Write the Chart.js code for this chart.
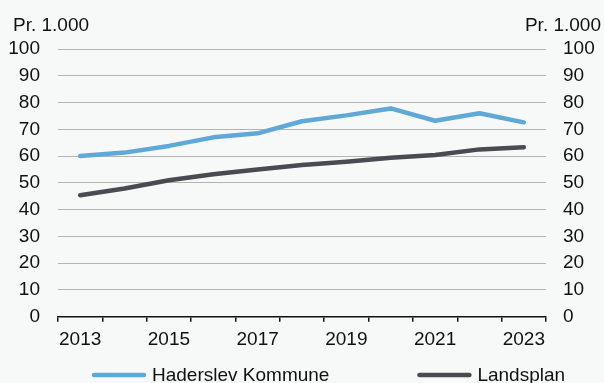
<!DOCTYPE html>
<html>
<head>
<meta charset="utf-8">
<style>
  html, body { margin: 0; padding: 0; background: #f7f8f8; }
  #wrap { width: 604px; height: 383px; position: relative; }
</style>
<script src="https://cdn.jsdelivr.net/npm/chart.js@4.4.1/dist/chart.umd.min.js"></script>
</head>
<body>
<div id="wrap"><canvas id="chart"></canvas></div>
<script>
// ── DATA ──
const years = ['2013','2014','2015','2016','2017','2018','2019','2020','2021','2022','2023'];
const haderslev = [60.0, 61.3, 63.8, 67.0, 68.5, 73.0, 75.2, 77.8, 73.2, 76.0, 72.6];
const landsplan = [45.4, 47.9, 51.0, 53.2, 55.0, 56.7, 57.9, 59.4, 60.4, 62.5, 63.3];
const seriesNames = ['Haderslev Kommune', 'Landsplan'];
const yMin = 0, yMax = 100, yStep = 10;
const unitLabel = 'Pr. 1.000';

const FONT = '"Liberation Sans", Arial, sans-serif';
const TEXT = '#111111';
Chart.defaults.font.family = FONT;
Chart.defaults.font.size = 19;
Chart.defaults.color = TEXT;

// ── UNIT LABELS (top left / top right) ──
const unitPlugin = {
  id: 'unitLabels',
  afterDraw(chart) {
    const ctx = chart.ctx;
    ctx.save();
    ctx.font = '19px ' + FONT;
    ctx.fillStyle = TEXT;
    ctx.textBaseline = 'alphabetic';
    ctx.textAlign = 'left';
    ctx.fillText(unitLabel, 13, 31);
    ctx.textAlign = 'right';
    ctx.fillText(unitLabel, chart.width - 3, 31);
    ctx.restore();
  }
};

// ── LEGEND (drawn by hand, items spaced like the original) ──
const legendPlugin = {
  id: 'bottomLegend',
  afterDraw(chart) {
    const ctx = chart.ctx;
    const y = chart.height - 8;
    let x = 92;
    ctx.save();
    ctx.font = '19px ' + FONT;
    ctx.textBaseline = 'middle';
    ctx.textAlign = 'left';
    chart.data.datasets.forEach(ds => {
      ctx.strokeStyle = ds.borderColor;
      ctx.lineWidth = ds.borderWidth;
      ctx.lineCap = 'round';
      ctx.beginPath();
      ctx.moveTo(x + 2, y);
      ctx.lineTo(x + 52, y);
      ctx.stroke();
      ctx.fillStyle = TEXT;
      ctx.fillText(ds.label, x + 60, y + 1);
      x += 60 + ctx.measureText(ds.label).width + 88;
    });
    ctx.restore();
  }
};

new Chart(document.getElementById('chart'), {
  type: 'line',
  data: {
    labels: years,
    datasets: [
      {
        label: seriesNames[0],
        data: haderslev,
        borderColor: '#5fa9d9',
        borderWidth: 4.5,
        borderCapStyle: 'round',
        borderJoinStyle: 'round',
        pointRadius: 0,
        tension: 0,
      },
      {
        label: seriesNames[1],
        data: landsplan,
        borderColor: '#4a4a51',
        borderWidth: 4.5,
        borderCapStyle: 'round',
        borderJoinStyle: 'round',
        pointRadius: 0,
        tension: 0,
      }
    ]
  },
  options: {
    responsive: true,
    maintainAspectRatio: false,
    animation: false,
    layout: { padding: { top: 49, left: 4, right: 0, bottom: 24.5 } },
    plugins: { legend: { display: false }, tooltip: { enabled: false } },
    scales: {
      x: {
        offset: true,
        z: 1,
        grid: { offset: true, drawOnChartArea: false, drawTicks: true, tickLength: 5, color: '#111', lineWidth: 1.5 },
        border: { display: true, color: '#111', width: 1.5 },
        ticks: {
          autoSkip: false, maxRotation: 0, padding: 7,
          callback: (v, i) => (i % 2 === 0 ? years[i] : '')
        }
      },
      y: {
        position: 'left',
        min: yMin, max: yMax,
        afterFit: s => { s.width = 54; },
        grid: { color: '#b4b4b4', lineWidth: 1, drawTicks: false },
        border: { display: false },
        ticks: { stepSize: yStep, padding: 18 }
      },
      y2: {
        position: 'right',
        min: yMin, max: yMax,
        afterFit: s => { s.width = 58; },
        grid: { drawOnChartArea: false, drawTicks: false },
        border: { display: false },
        ticks: { stepSize: yStep, padding: 17 }
      }
    }
  },
  plugins: [unitPlugin, legendPlugin]
});
</script>
</body>
</html>
